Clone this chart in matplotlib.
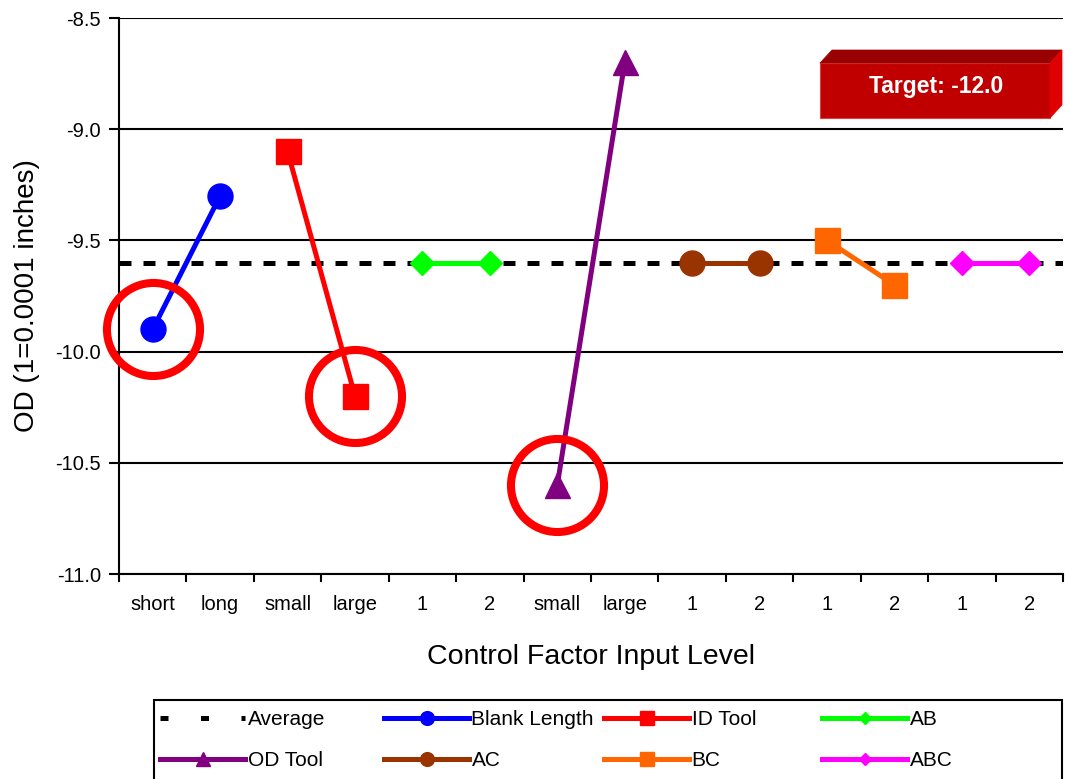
import numpy as np
import matplotlib.pyplot as plt
from matplotlib.lines import Line2D
from matplotlib.patches import Polygon, Rectangle

plt.rcParams['font.family'] = ['Liberation Sans', 'DejaVu Sans']

# data
level_labels = ['short', 'long', 'small', 'large', '1', '2', 'small', 'large',
                '1', '2', '1', '2', '1', '2']
series_names = ['Blank Length', 'ID Tool', 'AB', 'OD Tool', 'AC', 'BC', 'ABC']
series_values = [[-9.9, -9.3],
                 [-9.1, -10.2],
                 [-9.6, -9.6],
                 [-10.6, -8.7],
                 [-9.6, -9.6],
                 [-9.5, -9.7],
                 [-9.6, -9.6]]
average = -9.6
circled = [(0, -9.9), (3, -10.2), (6, -10.6)]  # (level index, value)
target_text = 'Target: -12.0'

colors = ['#0000FF', '#FF0000', '#00FF00', '#800080', '#993300', '#FF6600', '#FF00FF']
markers = ['o', 's', 'D', '^', 'o', 's', 'D']
msizes = [18, 18, 12, 18, 18, 18, 12]


def fx(px):
    return px / 1070


def fy(py):
    return 1 - py / 779


fig = plt.figure(figsize=(10.7, 7.79), dpi=100)
ax = fig.add_axes([fx(119), fy(574), fx(1063) - fx(119), fy(18) - fy(574)])

ax.set_xlim(-0.5, len(level_labels) - 0.5)
ax.set_ylim(-11.0, -8.5)
yt = np.arange(-11.0, -8.49, 0.5)
ax.set_yticks(yt)
ax.set_yticklabels(['%.1f' % v for v in yt], fontsize=14.5)
ax.yaxis.grid(True, color='black', linewidth=1.5)
ax.set_axisbelow(True)

ax.set_xticks(np.arange(len(level_labels)))
ax.set_xticklabels(level_labels, fontsize=14.5)
ax.set_xticks(np.arange(-0.5, len(level_labels)), minor=True)
ax.tick_params(axis='x', which='major', length=0, pad=15)
ax.tick_params(axis='x', which='minor', length=6, width=1.5, direction='out')
ax.tick_params(axis='y', length=7, width=1.5, direction='out', pad=6)

for s in ['top', 'right']:
    ax.spines[s].set_visible(False)
for s in ['left', 'bottom']:
    ax.spines[s].set_linewidth(1.5)

ax.plot(ax.get_xlim(), [average, average], color='black', lw=3.6,
        linestyle=(0, (2.4, 2.4)), zorder=2)

for i, (name, vals) in enumerate(zip(series_names, series_values)):
    ax.plot([2 * i, 2 * i + 1], vals, color=colors[i], lw=3.6, marker=markers[i],
            markersize=msizes[i], zorder=3)

for x, y in circled:
    ax.plot(x, y, marker='o', markersize=67, markerfacecolor='none',
            markeredgecolor='#FF0000', markeredgewidth=5.8, zorder=4, clip_on=False)

ax.set_xlabel('Control Factor Input Level', fontsize=20.5, labelpad=22)
ax.set_ylabel('OD (1=0.0001 inches)', fontsize=20, labelpad=11)

# target box (3d look)
front = Polygon([(fx(820), fy(63)), (fx(1050), fy(63)), (fx(1050), fy(118)), (fx(820), fy(118))],
                closed=True, transform=fig.transFigure, facecolor='#C00000', edgecolor='#E04040', lw=0.8)
top = Polygon([(fx(820), fy(63)), (fx(832), fy(50)), (fx(1062), fy(50)), (fx(1050), fy(63))],
              closed=True, transform=fig.transFigure, facecolor='#990000', edgecolor='#990000', lw=0.5)
side = Polygon([(fx(1050), fy(63)), (fx(1062), fy(50)), (fx(1062), fy(105)), (fx(1050), fy(118))],
               closed=True, transform=fig.transFigure, facecolor='#E00000', edgecolor='#E00000', lw=0.5)
for p in (front, top, side):
    fig.patches.append(p)
fig.text(fx(936), fy(86), target_text, color='white', fontsize=16.5, fontweight='bold',
         ha='center', va='center')

# legend: frame + four columns
frame = Rectangle((fx(154), fy(785)), fx(1062) - fx(154), fy(700) - fy(785),
                  transform=fig.transFigure, facecolor='white', edgecolor='black', lw=1.5)
fig.patches.append(frame)

handles = [Line2D([], [], color='black', lw=3.6, linestyle=(0, (1.6, 6.5)))]
labels = ['Average']
for i, name in enumerate(series_names):
    handles.append(Line2D([], [], color=colors[i], lw=3.6, marker=markers[i],
                          markersize=msizes[i] * 0.55))
    labels.append(name)

col_x = [160, 384, 604, 822]
for c, x0 in enumerate(col_x):
    leg = fig.legend([handles[c], handles[c + 4]], [labels[c], labels[c + 4]],
                     loc='upper left', bbox_to_anchor=(fx(x0), fy(710)),
                     frameon=False, fontsize=15, handlelength=4.1, handletextpad=0.1,
                     borderaxespad=0, borderpad=0, labelspacing=1.05)

fig.savefig('out.png', dpi=100)
